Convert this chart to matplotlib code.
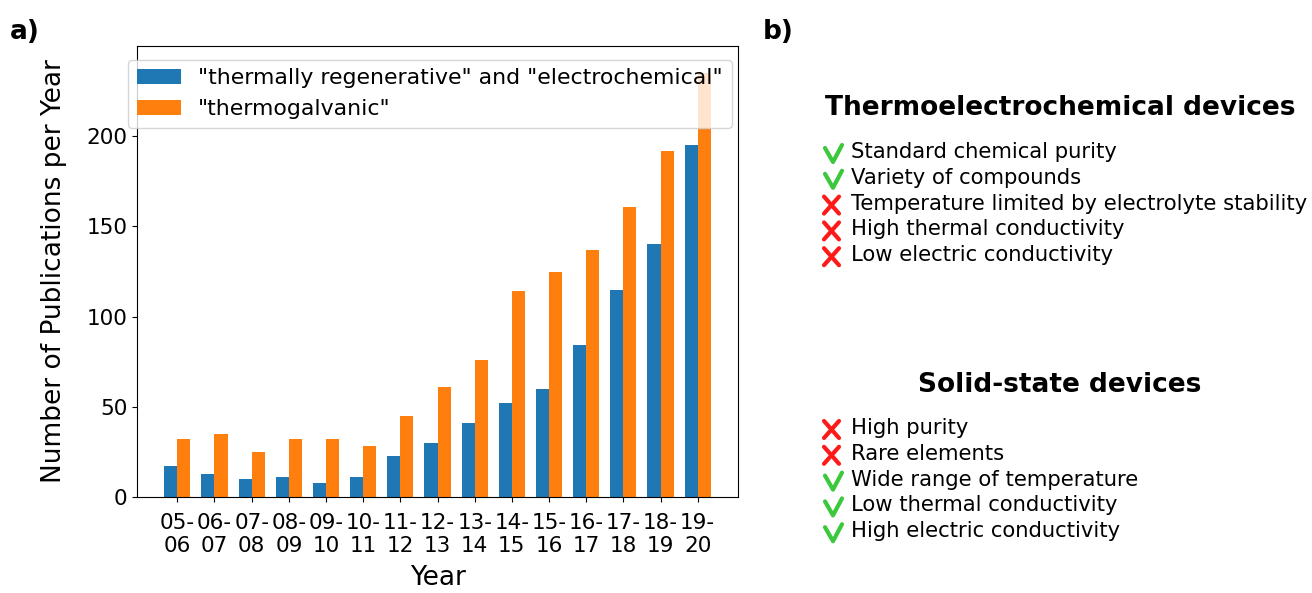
import numpy as np
import matplotlib.pyplot as plt

years = ['05-\n06', '06-\n07', '07-\n08', '08-\n09', '09-\n10', '10-\n11', '11-\n12',
         '12-\n13', '13-\n14', '14-\n15', '15-\n16', '16-\n17', '17-\n18', '18-\n19', '19-\n20']
regen_electro = [17, 13, 10, 11, 8, 11, 23, 30, 41, 52, 60, 84, 115, 140, 195]
thermogalvanic = [32, 35, 25, 32, 32, 28, 45, 61, 76, 114, 125, 137, 161, 192, 235]

teg_items = [('ok', 'Standard chemical purity'),
             ('ok', 'Variety of compounds'),
             ('bad', 'Temperature limited by electrolyte stability'),
             ('bad', 'High thermal conductivity'),
             ('bad', 'Low electric conductivity')]
solid_items = [('bad', 'High purity'),
               ('bad', 'Rare elements'),
               ('ok', 'Wide range of temperature'),
               ('ok', 'Low thermal conductivity'),
               ('ok', 'High electric conductivity')]

W, H = 1312, 593
dpi = 100
fig = plt.figure(figsize=(W / dpi, H / dpi), dpi=dpi)
ax = fig.add_axes([137 / W, 1 - 497 / H, 601 / W, 451 / H])

x = np.arange(len(years))
width = 0.35
ax.bar(x - width / 2, regen_electro, width, label='"thermally regenerative" and "electrochemical"')
ax.bar(x + width / 2, thermogalvanic, width, label='"thermogalvanic"')
ax.set_ylim(0, 250)
ax.set_yticks([0, 50, 100, 150, 200])
ax.set_xticks(x)
ax.set_xticklabels(years)
ax.tick_params(labelsize=15.5)
ax.tick_params(axis='x', pad=8)
ax.set_xlabel('Year', fontsize=19, labelpad=6)
ax.set_ylabel('Number of Publications per Year', fontsize=19, labelpad=14)
ax.legend(loc='upper left', bbox_to_anchor=(-0.015, 0.97), borderaxespad=0, fontsize=15.8)

# overlay in pixel coordinates for panel b
ov = fig.add_axes([0, 0, 1, 1], zorder=5)
ov.set_xlim(0, W)
ov.set_ylim(H, 0)
ov.axis('off')

ov.text(10, 32, 'a)', fontsize=19, fontweight='bold', va='center')
ov.text(763, 32, 'b)', fontsize=19, fontweight='bold', va='center')

check_shape = ([-7, 1, 10], [-6, 8, -9])
cross_shape = ([-8, 7], [-9, 8]), ([7, -8], [-9, 8])

def draw_mark(kind, cx, cy):
    if kind == 'ok':
        ov.plot([cx + d for d in check_shape[0]], [cy + d for d in check_shape[1]],
                color='#3cc83c', lw=3.0, solid_capstyle='round', solid_joinstyle='round')
    else:
        for xs, ys in cross_shape:
            ov.plot([cx + d for d in xs], [cy + d for d in ys],
                    color='#ff1a1a', lw=3.0, solid_capstyle='round')

def block(title, title_y, items, y0):
    ov.text(1060, title_y, title, fontsize=19, fontweight='bold', ha='center', va='center')
    for i, (kind, txt) in enumerate(items):
        yy = y0 + i * 25.8
        draw_mark(kind, 832, yy + 2)
        ov.text(851, yy, txt, fontsize=15.2, va='center')

block('Thermoelectrochemical devices', 108, teg_items, 152)
block('Solid-state devices', 385, solid_items, 428)

plt.savefig('out.png', dpi=dpi)
